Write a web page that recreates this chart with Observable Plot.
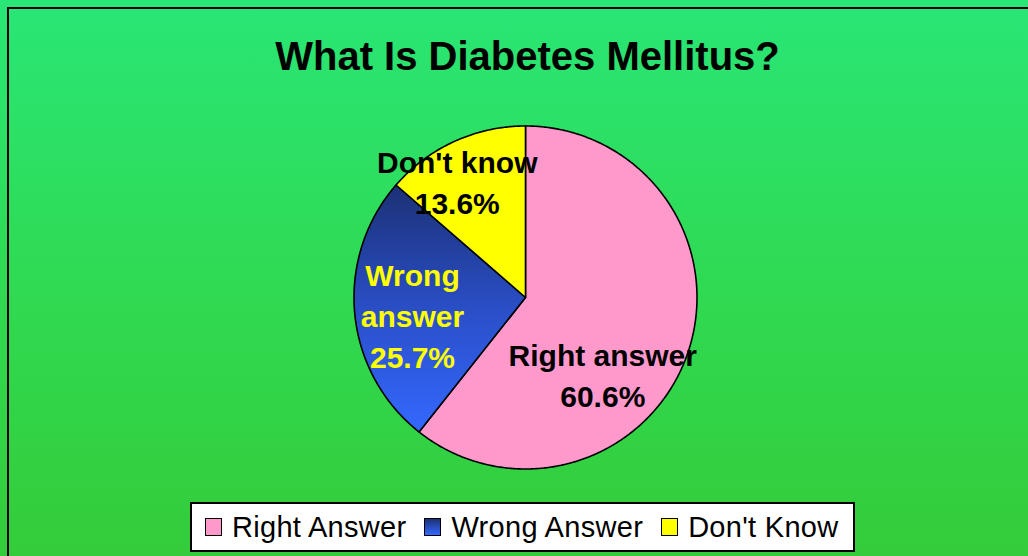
<!DOCTYPE html>
<html>
<head>
<meta charset="utf-8">
<script src="https://cdn.jsdelivr.net/npm/d3@7"></script>
<script src="https://cdn.jsdelivr.net/npm/@observablehq/plot@0.6"></script>
<style>
  html, body { margin: 0; padding: 0; overflow: hidden; }
  body {
    width: 1028px; height: 556px; position: relative;
    background: linear-gradient(to bottom, #29e676 0%, #30d950 55%, #34cc3a 100%);
    font-family: "Liberation Sans", Arial, Helvetica, sans-serif;
  }
  #frame {
    position: absolute; left: 7px; top: 7px; width: 1200px; height: 700px;
    border: 2px solid #000; box-sizing: border-box;
  }
  #title {
    position: absolute; left: 0; top: 36px; width: 1055px; text-align: center;
    font-size: 40px; line-height: 40px; font-weight: bold; color: #000;
  }
  #chart { position: absolute; left: 0; top: 100px; }
  #legend {
    position: absolute; left: 190px; top: 502px; width: 665px; height: 50px;
    box-sizing: border-box; background: #fff; border: 2px solid #000;
    display: flex; flex-wrap: nowrap; align-items: center; justify-content: flex-start;
    padding-left: 13px; white-space: nowrap;
    font-size: 29px; letter-spacing: 0.3px; color: #000;
  }
  .item { display: flex; align-items: center; margin-right: 18px; flex: 0 0 auto; white-space: nowrap; }
  .sw {
    width: 17px; height: 18px; box-sizing: border-box; border: 1.5px solid #000;
    margin-right: 10px; flex: 0 0 auto;
  }
</style>
</head>
<body>
<div id="frame"></div>
<div id="title">What Is Diabetes Mellitus?</div>
<div id="chart"></div>
<div id="legend"></div>
<script>
// Survey answers
const categories = ["Right Answer", "Wrong Answer", "Don't Know"];
const sliceNames = ["Right answer", "Wrong\nanswer", "Don't know"];
const percents = [60.6, 25.7, 13.6];

// Slice styling
const fills = ["#ff99cc", "url(#blueGrad)", "#ffff00"];
const labelColors = ["#000000", "#ffff00", "#000000"];
const labelNudge = [[-28, 39], [-2, 6], [-22, -16]];

const data = categories.map((c, i) => ({category: c, name: sliceNames[i], value: percents[i]}));
const arcs = d3.pie().sort(null).value(d => d.value)(data);

// Outline of each wedge in unit-circle coordinates: centre, then the arc
function wedge(a) {
  const pts = [{x: 0, y: 0}];
  const n = Math.max(8, Math.ceil((a.endAngle - a.startAngle) / (Math.PI / 360)));
  for (let k = 0; k <= n; ++k) {
    const t = a.startAngle + (a.endAngle - a.startAngle) * k / n;
    pts.push({x: Math.sin(t), y: Math.cos(t)});
  }
  return pts;
}

const cx = 525, cy = 197, r = 171.5;
const marks = [];
arcs.forEach((a, i) => {
  marks.push(Plot.line(wedge(a), {
    x: "x", y: "y", curve: "linear-closed",
    fill: fills[i], stroke: "#000", strokeWidth: 1.6, strokeLinejoin: "round"
  }));
});
arcs.forEach((a, i) => {
  const mid = (a.startAngle + a.endAngle) / 2;
  marks.push(Plot.text([a], {
    x: () => 0.65 * Math.sin(mid),
    y: () => 0.65 * Math.cos(mid),
    text: d => `${d.data.name}\n${d.data.value.toFixed(1)}%`,
    dx: labelNudge[i][0], dy: labelNudge[i][1],
    fill: labelColors[i], fontSize: 30, fontWeight: "bold",
    lineHeight: 1.36, lineAnchor: "middle", textAnchor: "middle",
    fontFamily: "Liberation Sans, Arial, sans-serif"
  }));
});

const chart = Plot.plot({
  width: 1028,
  height: 400,
  margin: 0,
  style: {background: "transparent", overflow: "visible"},
  x: {domain: [-1, 1], range: [cx - r, cx + r], axis: null},
  y: {domain: [-1, 1], range: [cy + r, cy - r], axis: null},
  marks
});

// Vertical shading of the blue wedge
const defs = d3.select(chart).insert("defs", ":first-child");
const g = defs.append("linearGradient").attr("id", "blueGrad")
  .attr("x1", 0).attr("y1", 0).attr("x2", 0).attr("y2", 1);
g.append("stop").attr("offset", "0%").attr("stop-color", "#1c3175");
g.append("stop").attr("offset", "50%").attr("stop-color", "#2a4ec6");
g.append("stop").attr("offset", "100%").attr("stop-color", "#3468ff");
document.getElementById("chart").append(chart);

// Legend
const legend = d3.select("#legend");
categories.forEach((c, i) => {
  const item = legend.append("div").attr("class", "item");
  item.append("div").attr("class", "sw").style("background",
    i === 1 ? "linear-gradient(to bottom, #1c3175, #3468ff)" : fills[i]);
  item.append("span").text(c);
});
</script>
</body>
</html>
